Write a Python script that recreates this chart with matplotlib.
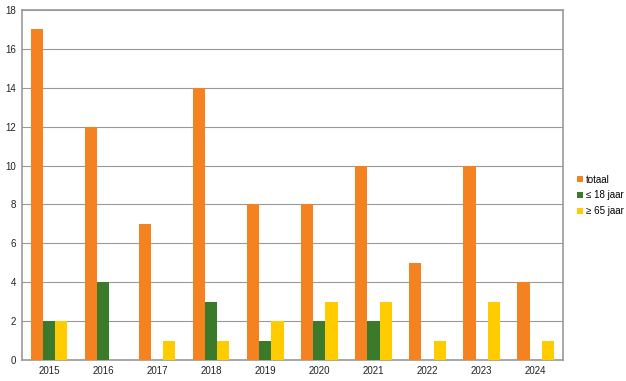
import matplotlib.pyplot as plt
import numpy as np

plt.rcParams['font.family'] = ['Liberation Sans', 'DejaVu Sans']

years = ['2015', '2016', '2017', '2018', '2019', '2020', '2021', '2022', '2023', '2024']
totaal = [17, 12, 7, 14, 8, 8, 10, 5, 10, 4]
jong = [2, 4, 0, 3, 1, 2, 2, 0, 0, 0]
oud = [2, 0, 1, 1, 2, 3, 3, 1, 3, 1]

fig = plt.figure(figsize=(6.26, 3.81), dpi=100)
ax = fig.add_axes([0.035, 0.055, 0.864, 0.919])

x = np.arange(len(years))
w = 0.225
ax.bar(x - w, totaal, w, color='#F58220', label='totaal', zorder=3)
ax.bar(x, jong, w, color='#3A7A2A', label='≤ 18 jaar', zorder=3)
ax.bar(x + w, oud, w, color='#FFCC00', label='≥ 65 jaar', zorder=3)

ax.set_xlim(-0.5, len(years) - 0.5)
ax.set_ylim(0, 18)
ax.set_yticks(range(0, 19, 2))
ax.set_xticks(x)
ax.set_xticklabels(years)
ax.tick_params(labelsize=7, length=0, pad=4, colors='#222222')
ax.grid(axis='y', color='#999999', linewidth=0.8, zorder=0)
for s in ax.spines.values():
    s.set_color('#999999')
    s.set_linewidth(1.2)

ax.legend(loc='center left', bbox_to_anchor=(1.01, 0.47), frameon=False,
          fontsize=7, handlelength=0.6, handleheight=0.6, handletextpad=0.3,
          labelspacing=0.6)

fig.savefig('out.png', dpi=100)
